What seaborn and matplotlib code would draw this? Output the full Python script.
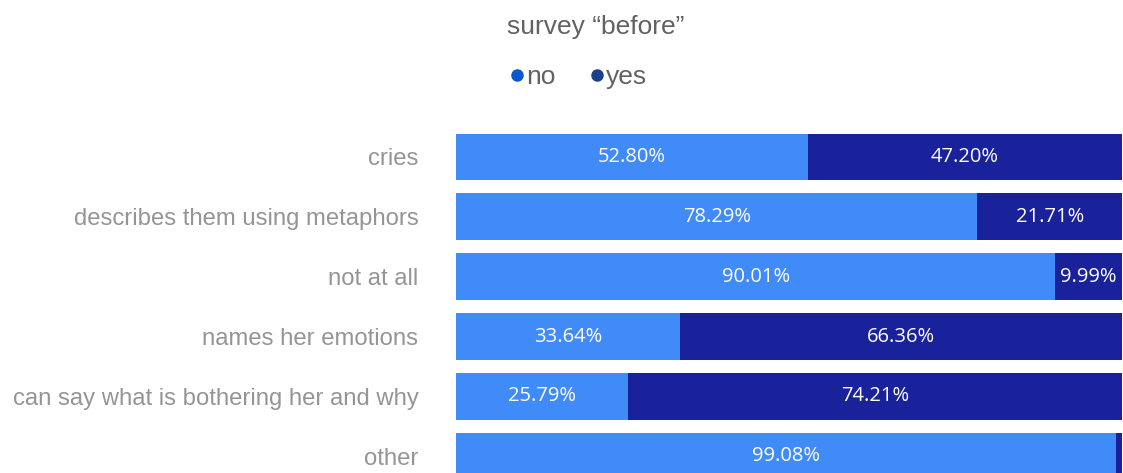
import matplotlib
matplotlib.use("Agg")
import matplotlib.pyplot as plt
from matplotlib.lines import Line2D
import seaborn as sns
import pandas as pd

categories = [
    "cries",
    "describes them using metaphors",
    "not at all",
    "names her emotions",
    "can say what is bothering her and why",
    "other",
]
no_pct = [52.80, 78.29, 90.01, 33.64, 25.79, 99.08]
yes_pct = [47.20, 21.71, 9.99, 66.36, 74.21, 0.92]

NO_BAR = "#418BF9"
YES_BAR = "#19229A"
NO_DOT = "#0B57D0"
YES_DOT = "#1B3F8C"

df = pd.DataFrame({"category": categories, "no": no_pct, "yes": yes_pct})
df["total"] = df["no"] + df["yes"]

sns.set_theme(style="white")
plt.rcParams["font.family"] = ["Liberation Sans", "DejaVu Sans"]

fig = plt.figure(figsize=(11.23, 4.73), dpi=100)
ax = fig.add_axes([456 / 1123, 0.0, 666 / 1123, 1 - 127 / 473])

# stacked horizontal bars: the full total in the "yes" colour, then "no" on top
sns.barplot(data=df, y="category", x="total", color=YES_BAR, orient="h",
            width=0.78, saturation=1, linewidth=0, ax=ax)
sns.barplot(data=df, y="category", x="no", color=NO_BAR, orient="h",
            width=0.78, saturation=1, linewidth=0, ax=ax)

ax.set_xlim(0, 100)
ax.set_ylim(5.28, -0.5)
ax.set_xlabel("")
ax.set_ylabel("")
ax.set_xticks([])
for s in ax.spines.values():
    s.set_visible(False)
ax.tick_params(axis="y", length=0, pad=27, labelsize=17.2, labelcolor="#959595")

# value labels centred in each segment
for i, (n, y) in enumerate(zip(no_pct, yes_pct)):
    ax.text(n / 2, i, f"{n:.2f}%", ha="center", va="center", color="white",
            fontsize=14.5, family=["Open Sans", "DejaVu Sans"])
    if y >= 5:
        ax.text(n + y / 2, i, f"{y:.2f}%", ha="center", va="center", color="white",
                fontsize=14.5, family=["Open Sans", "DejaVu Sans"])

fig.text(596 / 1123, 1 - 27 / 473, "survey \u201cbefore\u201d", ha="center", va="center",
         fontsize=19, color="#626262")

handles = [
    Line2D([], [], marker="o", linestyle="", color=NO_DOT, markersize=8),
    Line2D([], [], marker="o", linestyle="", color=YES_DOT, markersize=8),
]
leg = fig.legend(handles, ["no", "yes"], ncol=2, loc="center",
                 bbox_to_anchor=(579 / 1123, 1 - 77 / 473), frameon=False,
                 handlelength=0.5, handletextpad=0.1, columnspacing=1.3,
                 fontsize=19)
for t in leg.get_texts():
    t.set_color("#626262")

fig.savefig("out.png", dpi=100)
